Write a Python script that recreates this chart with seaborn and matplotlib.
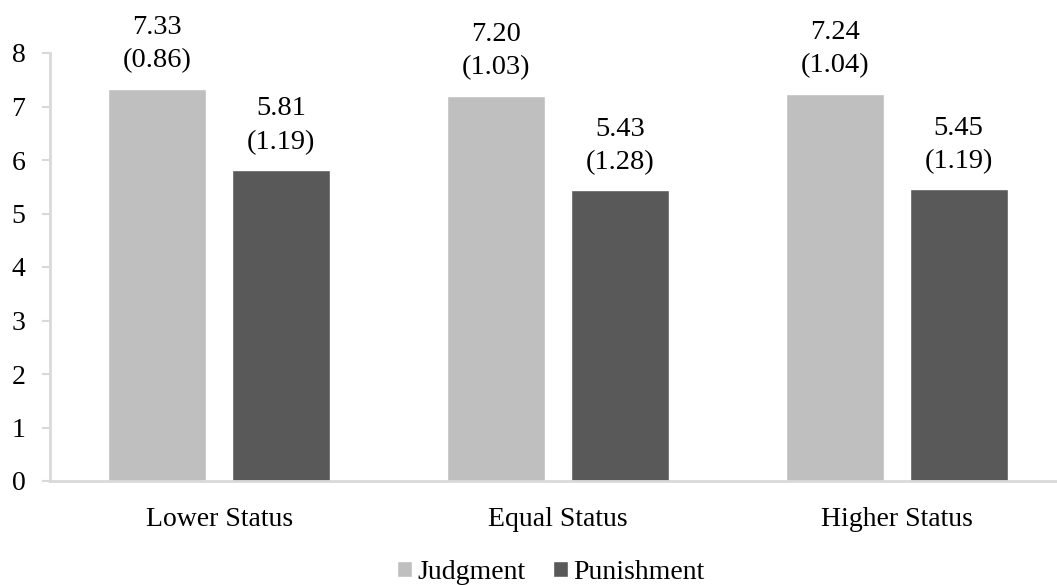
import matplotlib
matplotlib.use("Agg")
import matplotlib.pyplot as plt
import seaborn as sns
import pandas as pd

# Ratings by target status
categories = ["Lower Status", "Equal Status", "Higher Status"]
judgment_means = [7.33, 7.20, 7.24]
judgment_sds = [0.86, 1.03, 1.04]
punishment_means = [5.81, 5.43, 5.45]
punishment_sds = [1.19, 1.28, 1.19]
series = ["Judgment", "Punishment"]
colors = ["#bfbfbf", "#595959"]
y_ticks = [0, 1, 2, 3, 4, 5, 6, 7, 8]

df = pd.DataFrame({
    "Status": categories * 2,
    "Measure": [series[0]] * 3 + [series[1]] * 3,
    "Mean": judgment_means + punishment_means,
    "SD": judgment_sds + punishment_sds,
})

sns.set_style("white")
plt.rcParams["font.family"] = ["Liberation Serif", "DejaVu Serif"]
FS = 20

fig = plt.figure(figsize=(10.57, 5.85), dpi=100)
# plot area runs slightly past the right edge of the canvas
ax = fig.add_axes([50 / 1057, 1 - 481 / 585, 1016 / 1057, 428 / 585])

sns.barplot(data=df, x="Status", y="Mean", hue="Measure", order=categories,
            hue_order=series, palette=colors, width=0.733, gap=0.21,
            errorbar=None, saturation=1, ax=ax, legend=True)

# Mean and (SD) labels above each bar
for container, measure in zip(ax.containers, series):
    sub = df[df["Measure"] == measure].set_index("Status").loc[categories]
    labels = [f"{m:.2f}\n({s:.2f})" for m, s in zip(sub["Mean"], sub["SD"])]
    ax.bar_label(container, labels=labels, padding=11, fontsize=20.5,
                 linespacing=1.45, color="black")

ax.set_ylim(0, 8)
ax.set_xlim(-0.5, 2.5)
ax.set_yticks(y_ticks)
ax.set_xlabel("")
ax.set_ylabel("")
ax.tick_params(axis="y", which="both", length=5.8, width=1.5, color="#d9d9d9",
               labelsize=FS, pad=12, left=True, labelcolor="black")
ax.tick_params(axis="x", length=0, labelsize=FS, pad=19, labelcolor="black")

for side in ["top", "right"]:
    ax.spines[side].set_visible(False)
for side in ["left", "bottom"]:
    ax.spines[side].set_color("#d9d9d9")
    ax.spines[side].set_linewidth(2)

leg = ax.legend(loc="center", bbox_to_anchor=(0.521, 0.022),
                bbox_transform=fig.transFigure, ncol=2, frameon=False,
                fontsize=FS, handlelength=0.54, handleheight=0.54,
                handletextpad=0.2, columnspacing=1.0, borderpad=0)
for t in leg.get_texts():
    t.set_color("black")

fig.savefig("out.png", dpi=100)
